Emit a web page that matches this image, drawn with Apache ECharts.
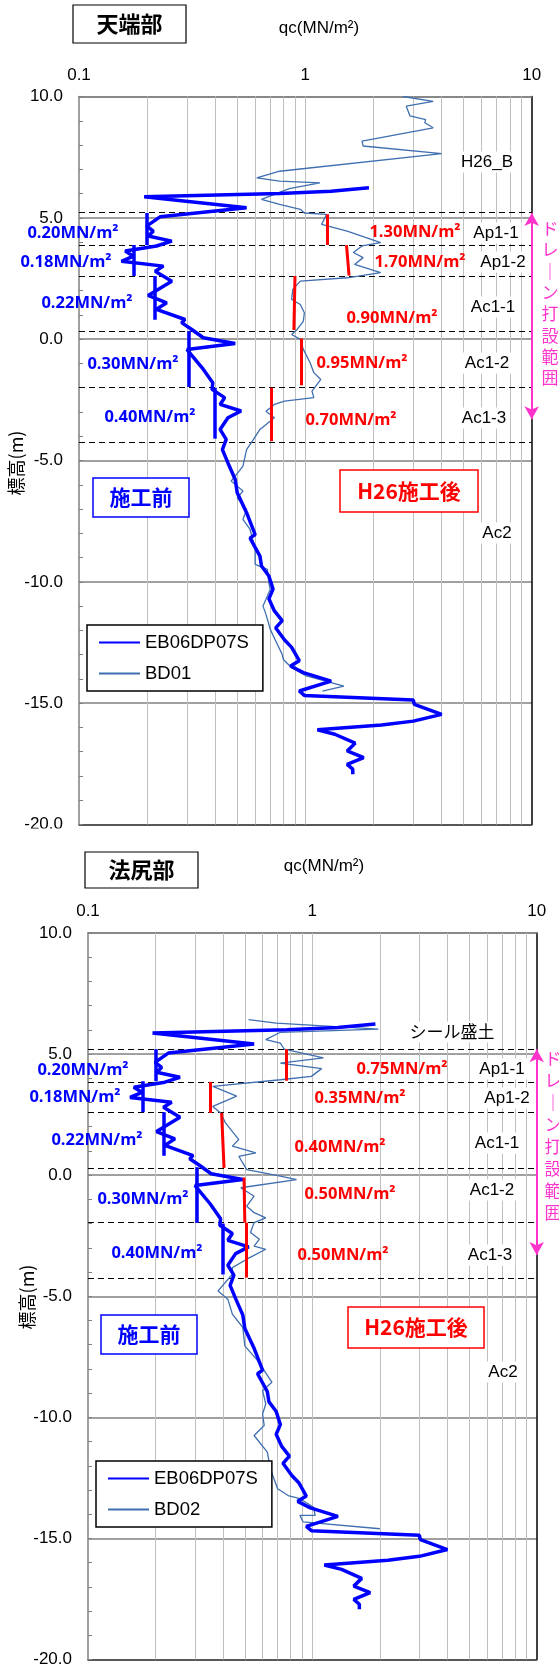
<!DOCTYPE html>
<html><head><meta charset="utf-8">
<script src="https://cdn.jsdelivr.net/npm/echarts@6/dist/echarts.min.js"></script>
<style>html,body{margin:0;padding:0;background:#fff}#c{width:559px;height:1668px}</style>
</head><body><div id="c"></div>
<script>
// ---------------- data ----------------
const qcTickLabels = ['0.1', '1', '10'];
const qcGridValues = [0.2,0.3,0.4,0.5,0.6,0.7,0.8,0.9,1,2,3,4,5,6,7,8,9];
const layerBoundsTop = [5.22, 3.88, 2.6, 0.34, -1.98, -4.25];
const layerBoundsBot = [5.18, 3.84, 2.58, 0.3, -1.96, -4.25];

// EB06DP07S (before construction) [qc, elevation]
const eb06 = [[1.91,6.24],[1.3,6.1],[0.77,6.0],[0.194,5.87],[0.55,5.42],[0.228,5.04],[0.199,4.66],[0.213,4.45],[0.202,4.25],[0.257,4.04],[0.22,3.84],[0.16,3.63],[0.174,3.42],[0.154,3.21],[0.236,3.01],[0.217,2.80],[0.257,2.39],[0.202,1.80],[0.244,1.50],[0.22,1.23],[0.294,0.81],[0.284,0.68],[0.315,0.40],[0.354,0.06],[0.49,-0.18],[0.30,-0.43],[0.35,-1.18],[0.39,-1.8],[0.387,-2.07],[0.44,-2.41],[0.42,-2.69],[0.52,-2.96],[0.455,-3.24],[0.42,-3.72],[0.447,-4.13],[0.43,-4.55],[0.455,-5.1],[0.49,-5.78],[0.50,-6.33],[0.55,-7.15],[0.6,-8.05],[0.57,-8.2],[0.63,-8.94],[0.64,-9.35],[0.69,-9.76],[0.72,-10.3],[0.69,-10.7],[0.73,-11.2],[0.79,-11.6],[0.74,-11.9],[0.81,-12.4],[0.87,-12.7],[0.94,-13.25],[0.86,-13.47],[0.98,-13.74],[1.30,-14.09],[0.94,-14.5],[0.99,-14.68],[3.0,-14.87],[3.03,-15.05],[4.0,-15.46],[3.0,-15.74],[2.17,-15.9],[1.13,-16.1],[1.35,-16.28],[1.66,-16.65],[1.53,-16.97],[1.81,-17.24],[1.53,-17.52],[1.62,-17.72],[1.62,-17.93]];

// BD01 (after, crest) [qc, elevation]
const bd01 = [[2.7,10.0],[3.67,9.8],[2.79,9.6],[2.9,9.2],[3.4,9.05],[3.37,8.92],[3.67,8.71],[1.78,8.16],[1.8,7.96],[4.0,7.65],[0.77,6.92],[0.61,6.65],[0.77,6.51],[1.16,6.44],[0.85,6.2],[0.64,5.76],[0.77,5.55],[0.95,5.35],[0.99,5.2],[1.24,5.14],[1.18,4.73],[1.53,4.45],[2.15,3.98],[1.78,3.84],[1.63,3.57],[1.8,3.36],[1.65,3.08],[2.15,2.74],[1.53,2.53],[0.95,2.39],[0.88,2.05],[0.87,1.64],[0.95,1.43],[0.99,1.09],[0.98,0.74],[0.92,0.4],[0.87,0.19],[0.95,-0.01],[0.98,-0.42],[1.05,-0.97],[1.09,-1.38],[1.17,-1.66],[1.07,-2.14],[1.09,-2.41],[0.81,-2.55],[0.73,-2.69],[0.67,-2.97],[0.73,-3.24],[0.63,-3.72],[0.59,-4.13],[0.55,-4.55],[0.53,-5.23],[0.49,-5.64],[0.47,-5.85],[0.53,-6.26],[0.50,-6.54],[0.55,-7.02],[0.53,-7.43],[0.57,-7.84],[0.6,-8.66],[0.6,-9.28],[0.68,-9.49],[0.69,-10.04],[0.70,-10.31],[0.67,-10.72],[0.65,-11.0],[0.67,-11.34],[0.70,-11.96],[0.74,-12.44],[0.79,-12.99],[0.80,-13.2],[0.87,-13.54],[1.01,-13.88],[1.48,-14.3],[1.19,-14.5]];

// BD02 (after, toe) [qc, elevation]
const bd02 = [[0.52,6.42],[0.69,6.28],[1.97,6.03],[0.72,5.9],[0.62,5.6],[0.72,5.45],[0.75,5.2],[1.12,4.84],[0.72,4.63],[1.10,4.40],[0.99,4.08],[0.72,3.94],[0.36,3.67],[0.46,3.26],[0.36,2.84],[0.39,2.57],[0.41,2.16],[0.47,1.47],[0.44,1.2],[0.56,0.92],[0.47,0.78],[0.51,0.23],[0.72,-0.04],[0.85,-0.18],[0.48,-0.52],[0.55,-0.87],[0.51,-1.28],[0.55,-1.55],[0.62,-1.76],[0.55,-1.96],[0.53,-2.37],[0.58,-2.65],[0.55,-2.93],[0.62,-3.06],[0.51,-3.47],[0.44,-3.82],[0.44,-4.09],[0.38,-4.78],[0.42,-5.12],[0.44,-5.74],[0.49,-6.29],[0.50,-7.05],[0.57,-7.66],[0.66,-8.55],[0.60,-8.9],[0.62,-9.45],[0.60,-9.86],[0.61,-10.34],[0.55,-10.75],[0.63,-11.44],[0.65,-12.13],[0.70,-12.95],[0.78,-13.23],[0.88,-13.36],[1.01,-13.7],[1.03,-14.05],[0.88,-14.05],[0.91,-14.32],[2.0,-14.6]];

// average values per layer: [qcTop, elevTop, qcBottom, elevBottom]
const avgBefore = [[0.20,5.2,0.20,3.88],[0.175,3.88,0.175,2.6],[0.217,2.6,0.217,0.8],[0.305,0.33,0.305,-1.97],[0.398,-2.0,0.398,-4.1]];
const avgAfterTop = [[1.25,5.15,1.25,3.88],[1.52,3.88,1.56,2.62],[0.90,2.6,0.89,0.38],[0.96,0.03,0.96,-1.9],[0.71,-2.0,0.71,-4.2]];
const avgAfterBot = [[0.763,5.2,0.763,3.9],[0.352,3.85,0.352,2.57],[0.394,2.57,0.404,0.3],[0.496,-0.1,0.50,-1.96],[0.505,-1.96,0.505,-4.23]];
const drainRange = [5.2, -3.3];

const beforeLabels = ['0.20MN/m²','0.18MN/m²','0.22MN/m²','0.30MN/m²','0.40MN/m²'];
const afterLabelsTop = ['1.30MN/m²','1.70MN/m²','0.90MN/m²','0.95MN/m²','0.70MN/m²'];
const afterLabelsBot = ['0.75MN/m²','0.35MN/m²','0.40MN/m²','0.50MN/m²','0.50MN/m²'];
const layerNamesTop = ['H26_B','Ap1-1','Ap1-2','Ac1-1','Ac1-2','Ac1-3','Ac2'];
const layerNamesBot = ['シール盛土','Ap1-1','Ap1-2','Ac1-1','Ac1-2','Ac1-3','Ac2'];

// ---------------- layout / style ----------------
const FONT = '"Liberation Sans", Arial, sans-serif';
const BFONT = '"Open Sans", "Noto Sans", sans-serif';
const JFONT = '"Noto Sans CJK JP", sans-serif';
const BLUE = '#0000FF', RED = '#FF0000', THIN = '#3F6FB0', PINK = '#FF33CC';

const grids = [
  {left: 79, top: 96.5, width: 452.7, height: 728},
  {left: 88, top: 933, width: 448.7, height: 728}
];

function xAxes(g) {
  return [
    {type:'log', logBase:10, min:0.1, max:10, gridIndex:g, position:'top',
     axisLine:{show:true, onZero:false, lineStyle:{color:'#808080', width:1.5}},
     axisTick:{show:false}, splitLine:{show:false}, minorTick:{show:false},
     axisLabel:{fontSize:17, fontFamily:FONT, color:'#000', margin:13,
       formatter: v => qcTickLabels[Math.round(Math.log10(v)) + 1]}},
    {type:'log', logBase:10, min:0.1, max:10, gridIndex:g, position:'bottom',
     axisLine:{show:true, onZero:false, lineStyle:{color:'#404040', width:1.5}},
     axisTick:{show:false}, axisLabel:{show:false}, splitLine:{show:false}}
  ];
}
function yAxes(g) {
  return [
    {type:'value', min:-20, max:10, interval:5, gridIndex:g, position:'left',
     axisLine:{show:true, onZero:false, lineStyle:{color:'#808080', width:1.5}},
     axisTick:{show:true, inside:true, length:4, lineStyle:{color:'#808080'}},
     minorTick:{show:true, splitNumber:5, length:4, lineStyle:{color:'#808080'}},
     splitLine:{show:true, lineStyle:{color:'#808080', width:1.5}},
     axisLabel:{fontSize:17, fontFamily:FONT, color:'#000', margin:16, formatter: v => v.toFixed(1)}},
    {type:'value', min:-20, max:10, interval:5, gridIndex:g, position:'right',
     axisLine:{show:true, onZero:false, lineStyle:{color:'#000', width:1.5}},
     axisTick:{show:false}, axisLabel:{show:false}, splitLine:{show:false}}
  ];
}

function seriesFor(g, thinName, thinData, bounds, afterAvg) {
  const xi = g*2, yi = g*2;
  return [
    {type:'line', xAxisIndex:xi, yAxisIndex:yi, data:[], silent:true, z:1,
     markLine:{silent:true, z:1, symbol:['none','none'], label:{show:false}, animation:false,
       lineStyle:{color:'#C0C0C0', width:1, type:'solid'},
       data: qcGridValues.map(v => ({xAxis:v}))}},
    {type:'line', xAxisIndex:xi, yAxisIndex:yi, data:[], silent:true, z:2,
     markLine:{silent:true, z:2, symbol:['none','none'], label:{show:false}, animation:false,
       lineStyle:{color:'#000', width:1.2, type:[6,4]},
       data: bounds.map(v => ({yAxis:v}))}},
    {name: thinName, type:'line', xAxisIndex:xi, yAxisIndex:yi, data: thinData, z:4,
     symbol:'none', showSymbol:false, animation:false, lineStyle:{color:THIN, width:1.3}, itemStyle:{color:THIN}},
    {name:'EB06DP07S', type:'line', xAxisIndex:xi, yAxisIndex:yi, data: eb06, z:5,
     symbol:'none', showSymbol:false, animation:false, lineStyle:{color:BLUE, width:3.5}, itemStyle:{color:BLUE}},
    {type:'line', xAxisIndex:xi, yAxisIndex:yi, data:[], silent:true, z:6,
     markLine:{silent:true, z:6, symbol:['none','none'], label:{show:false}, animation:false,
       lineStyle:{color:BLUE, width:3.5, type:'solid'},
       data: avgBefore.map(a => [{coord:[a[0],a[1]]},{coord:[a[2],a[3]]}])}},
    {type:'line', xAxisIndex:xi, yAxisIndex:yi, data:[], silent:true, z:6,
     markLine:{silent:true, z:6, symbol:['none','none'], label:{show:false}, animation:false,
       lineStyle:{color:RED, width:3, type:'solid'},
       data: afterAvg.map(a => [{coord:[a[0],a[1]]},{coord:[a[2],a[3]]}])}},
    {type:'line', xAxisIndex:xi, yAxisIndex:yi, data:[], silent:true, z:7,
     markLine:{silent:true, z:7, symbol:['arrow','arrow'], symbolSize:[11,13], label:{show:false}, animation:false,
       lineStyle:{color:PINK, width:2, type:'solid'},
       data: [[{coord:[10, drainRange[0]]},{coord:[10, drainRange[1]]}]]}}
  ];
}

function t(x, y, text, o) {
  return {type:'text', x:x, y:y, z:100, silent:true,
    style: Object.assign({text:text, fill:'#000', fontSize:17, fontFamily:FONT,
      align:'center', verticalAlign:'middle', textAlign:'center', textVerticalAlign:'middle'}, o || {})};
}
function box(x, y, w, h, stroke, lw) {
  return {type:'rect', z:99, silent:true, shape:{x:x, y:y, width:w, height:h},
    style:{fill:'#fff', stroke:stroke, lineWidth:lw}};
}
const valStyle = c => ({fill:c, fontSize:16.5, fontWeight:'bold', fontFamily:BFONT});
const layerStyle = {fontSize:17, backgroundColor:'#fff', padding:[2,3]};
const vText = 'ド\nレ\n｜\nン\n打\n設\n範\n囲';

// annotation positions (pixels)
const posTop = {
  before: [[73,233],[66,262],[87,303],[133,364],[150,417]],
  after: [[415,232],[420,262],[392,318],[362,363],[351,420]],
  layers: [[487,162],[496,233],[503,262],[493,307],[487,363],[484,418],[497,533]]
};
const posBot = {
  before: [[83,1070],[75,1097],[97,1140],[143,1199],[157,1253]],
  after: [[402,1069],[360,1098],[340,1147],[350,1194],[343,1255]],
  layers: [[452,1032],[502,1069],[507,1098],[497,1143],[492,1190],[490,1255],[503,1372]]
};

const graphics = [];
function addAnno(pos, afterLabels, layerNames) {
  beforeLabels.forEach((s,i) => graphics.push(t(pos.before[i][0], pos.before[i][1], s, valStyle(BLUE))));
  afterLabels.forEach((s,i) => graphics.push(t(pos.after[i][0], pos.after[i][1], s, valStyle(RED))));
  layerNames.forEach((s,i) => graphics.push(t(pos.layers[i][0], pos.layers[i][1], s,
    Object.assign({}, layerStyle, i === 0 && s !== 'H26_B' ? {fontFamily:JFONT, fontSize:17} : {}))));
}
addAnno(posTop, afterLabelsTop, layerNamesTop);
addAnno(posBot, afterLabelsBot, layerNamesBot);

// titles, boxes, axis names
graphics.push(
  box(73,5,113,38,'#000',1.2), t(129.5,24,'天端部',{fontFamily:JFONT, fontWeight:'bold', fontSize:22}),
  t(319,28,'qc(MN/m²)',{fontSize:17}),
  t(16,463,'標高(m)',{fontFamily:JFONT, fontSize:18}),
  box(93,478,96,39,BLUE,1.5), t(141,497.5,'施工前',{fontFamily:JFONT, fontWeight:'bold', fontSize:21, fill:BLUE}),
  box(340,470,138,42,RED,1.5), t(409,491,'H26施工後',{fontFamily:JFONT, fontWeight:'bold', fontSize:21, fill:RED}),
  {type:'text', x:550, y:218, z:100, silent:true, style:{text:vText, fill:PINK, fontSize:17, lineHeight:21.3,
    fontFamily:JFONT, align:'center', verticalAlign:'top', textAlign:'center', textVerticalAlign:'top'}},
  {type:'rect', z:98, silent:true, shape:{x:0, y:828.5, width:76, height:16}, style:{fill:'#fff'}},

  box(85,852,113,36,'#000',1.2), t(141.5,870,'法尻部',{fontFamily:JFONT, fontWeight:'bold', fontSize:22}),
  t(324,866,'qc(MN/m²)',{fontSize:17}),
  t(27,1297,'標高(m)',{fontFamily:JFONT, fontSize:18}),
  box(101,1315,96,39,BLUE,1.5), t(149,1334.5,'施工前',{fontFamily:JFONT, fontWeight:'bold', fontSize:21, fill:BLUE}),
  box(348,1307,136,41,RED,1.5), t(416,1327.5,'H26施工後',{fontFamily:JFONT, fontWeight:'bold', fontSize:21, fill:RED}),
  {type:'text', x:553, y:1047, z:100, silent:true, style:{text:vText, fill:PINK, fontSize:17, lineHeight:22.1,
    fontFamily:JFONT, align:'center', verticalAlign:'top', textAlign:'center', textVerticalAlign:'top'}}
);
// rotate the axis names
graphics.forEach(gr => { if (gr.style && gr.style.text === '標高(m)') gr.rotation = Math.PI/2; });

const legendBase = {orient:'vertical', itemWidth:41, itemHeight:12, itemGap:12,
  borderColor:'#000', borderWidth:1.5, backgroundColor:'#fff', padding:[8,14,8,11],
  itemStyle:{opacity:0, borderWidth:0},
  textStyle:{fontSize:18.5, fontFamily:FONT, color:'#000', padding:[0,0,0,0]}, selectedMode:false, z:50};

const option = {
  animation:false,
  backgroundColor:'#fff',
  grid: grids.map(g => Object.assign({containLabel:false, show:false}, g)),
  xAxis: xAxes(0).concat(xAxes(1)),
  yAxis: yAxes(0).concat(yAxes(1)),
  legend: [
    Object.assign({}, legendBase, {left:87, top:625, data:['EB06DP07S','BD01']}),
    Object.assign({}, legendBase, {left:96, top:1461, data:['EB06DP07S','BD02']})
  ],
  series: seriesFor(0,'BD01',bd01,layerBoundsTop,avgAfterTop).concat(seriesFor(1,'BD02',bd02,layerBoundsBot,avgAfterBot)),
  graphic: graphics
};

const chart = echarts.init(document.getElementById('c'), null, {renderer:'canvas', width:559, height:1668});
chart.setOption(option);
</script>
</body></html>
